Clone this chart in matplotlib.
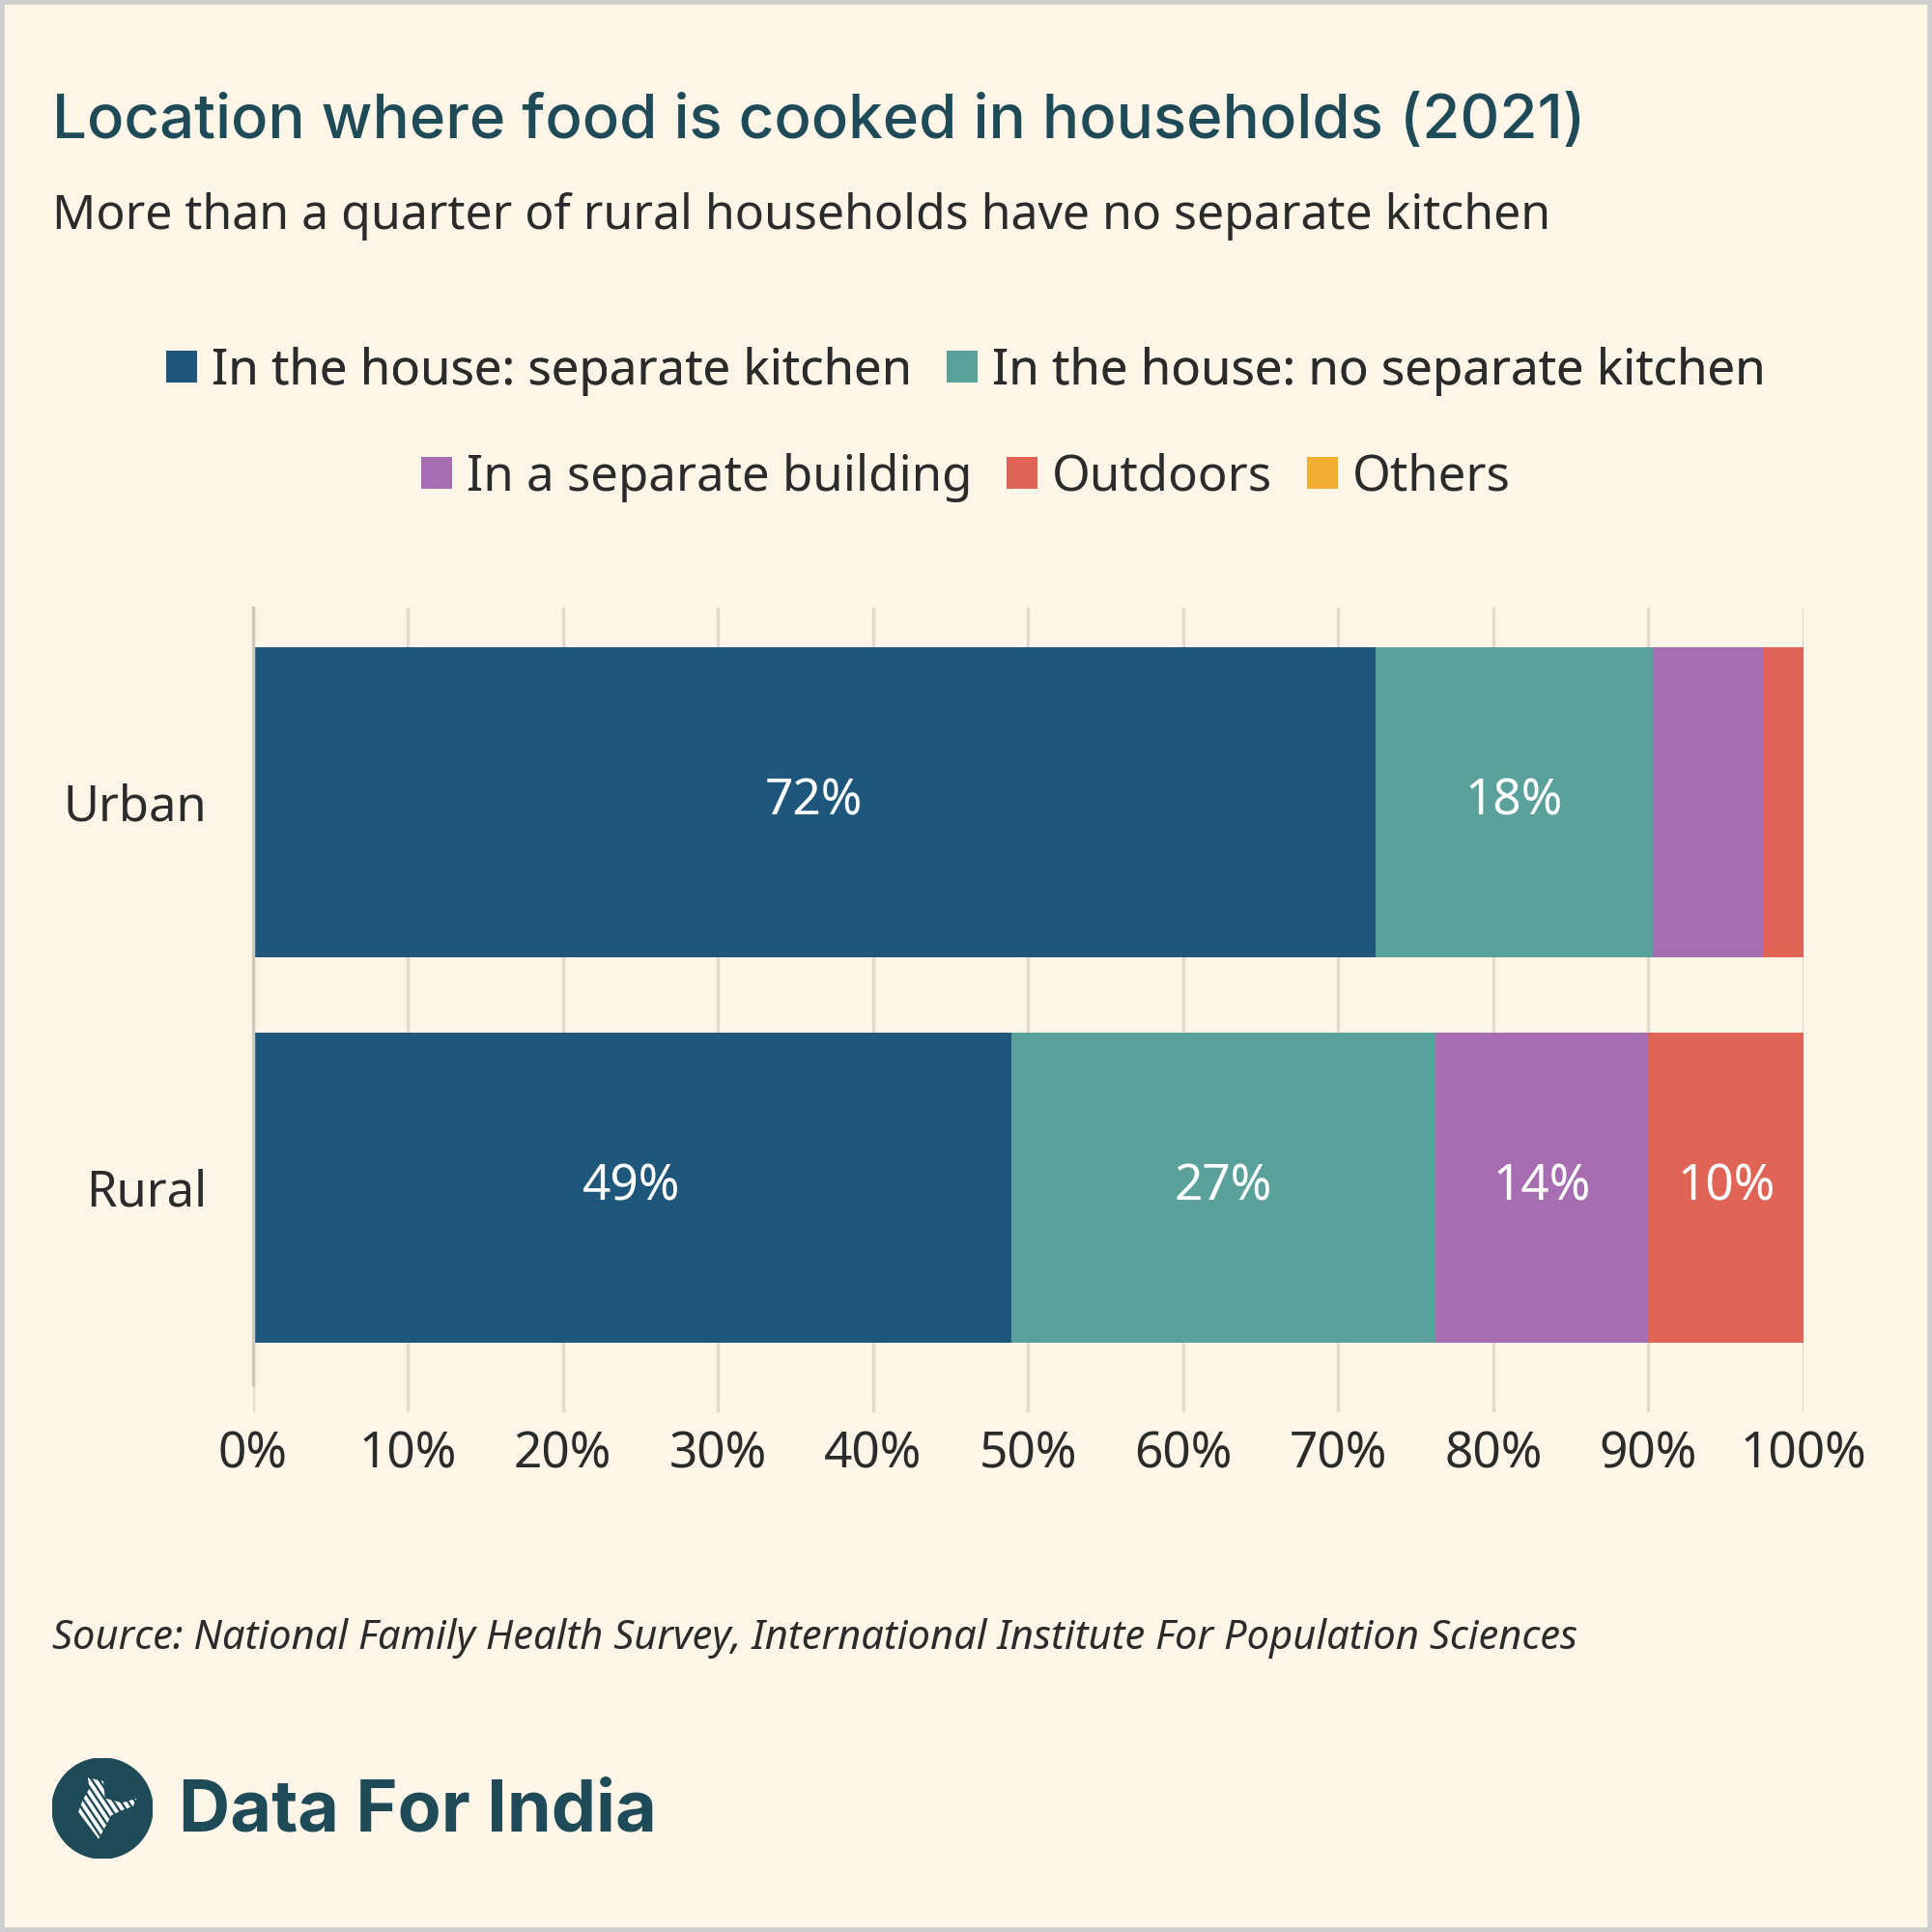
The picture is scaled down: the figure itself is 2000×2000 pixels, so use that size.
import numpy as np
import matplotlib.pyplot as plt
from matplotlib.patches import Patch, Rectangle, Circle, Polygon

# data
categories = ['Urban', 'Rural']
series = ['In the house: separate kitchen', 'In the house: no separate kitchen',
          'In a separate building', 'Outdoors', 'Others']
sep_kitchen = [72.4, 48.9]
no_sep_kitchen = [17.9, 27.4]
sep_building = [7.1, 13.7]
outdoors = [2.6, 10.0]
others = [0.0, 0.0]
values = [sep_kitchen, no_sep_kitchen, sep_building, outdoors, others]
colors = ['#1F567B', '#5AA19C', '#A66EB1', '#E06456', '#F2AE30']
xticks = [0, 10, 20, 30, 40, 50, 60, 70, 80, 90, 100]

BG = '#FDF5E7'
TITLE_C = '#1E4B57'
TEXT_C = '#2B2B2B'

fig = plt.figure(figsize=(20, 20), dpi=100, facecolor=BG)

# title block
fig.text(0.027, 1 - 127 / 2000, 'Location where food is cooked in households (2021)',
         family='Inter', fontsize=45.8, fontweight='medium', color=TITLE_C, va='center', ha='left')
fig.text(0.027, 1 - 224 / 2000, 'More than a quarter of rural households have no separate kitchen',
         family='Noto Sans', fontsize=36, color=TEXT_C, va='center', ha='left')

# chart
ax = fig.add_axes([261.5 / 2000, 1 - 1462 / 2000, 1605.5 / 2000, (1462 - 629) / 2000])
ax.set_facecolor(BG)
y = list(range(len(categories)))
left = [0.0] * len(categories)
for name, vals, col in zip(series, values, colors):
    bars = ax.barh(y, vals, left=left, height=0.805, color=col, edgecolor='none', label=name)
    for b, v in zip(bars, vals):
        if v >= 8:
            ax.text(b.get_x() + b.get_width() / 2, b.get_y() + b.get_height() / 2, f'{v:.0f}%',
                    ha='center', va='center', color='white', fontsize=37, family='Noto Sans',
                    fontweight='medium')
    left = [l + v for l, v in zip(left, vals)]

ax.set_xlim(0, 100)
ax.set_ylim(1.583, -0.505)
ax.set_yticks(y)
ax.set_yticklabels(categories, family='Noto Sans', fontsize=36.5, color=TEXT_C)
ax.set_xticks(xticks)
ax.set_xticklabels([f'{t}%' for t in xticks], family='Noto Sans', fontsize=37, color=TEXT_C)
ax.tick_params(axis='both', length=0)
ax.tick_params(axis='x', pad=13)
ax.tick_params(axis='y', pad=34)
ax.xaxis.grid(True, color='#E2DCCF', linewidth=2.5)
ax.set_axisbelow(True)
for s in ['top', 'right', 'bottom']:
    ax.spines[s].set_visible(False)
ax.spines['left'].set_color('#CFC8BA')
ax.spines['left'].set_linewidth(2.5)
ax.spines['left'].set_bounds(1.51, -0.505)

# legend in two centered rows
handles = [Patch(facecolor=c, edgecolor='none', label=s) for s, c in zip(series, colors)]
leg_kw = dict(frameon=False, prop={'family': 'Noto Sans', 'size': 36.7}, labelcolor=TEXT_C,
              handlelength=0.62, handleheight=0.62, handletextpad=0.3, columnspacing=0.7,
              loc='center', borderaxespad=0)
leg1 = fig.legend(handles=handles[:2], ncol=2, bbox_to_anchor=(0.5, 1 - 384 / 2000), **leg_kw)
fig.add_artist(leg1)
fig.legend(handles=handles[2:], ncol=3, bbox_to_anchor=(0.5, 1 - 494 / 2000), **leg_kw)

# source
fig.text(0.027, 1 - 1696 / 2000,
         'Source: National Family Health Survey, International Institute For Population Sciences',
         family='Noto Sans', style='italic', fontsize=30, color=TEXT_C, va='center', ha='left')

# logo: circle with striped map
lax = fig.add_axes([54 / 2000, 1 - 1924 / 2000, 104 / 2000, 104 / 2000])
lax.set_xlim(-1, 1)
lax.set_ylim(-1, 1)
lax.set_aspect('equal')
lax.axis('off')
lax.add_patch(Circle((0, 0), 1, color=TITLE_C))
shape = Polygon([(-0.29, 0.61), (0.02, 0.54), (0.05, 0.2), (0.39, 0.11), (0.68, 0.2),
                 (0.61, 0.04), (0.36, -0.05), (0.18, -0.14), (-0.075, -0.61), (-0.33, -0.27),
                 (-0.48, -0.08), (-0.39, 0.17), (-0.26, 0.39)], closed=True,
                facecolor='none', edgecolor='none')
lax.add_patch(shape)
d = np.array([1.0, -1.5]) / np.hypot(1.0, 1.5)
p = np.array([-d[1], d[0]])
for c in np.arange(-1.0, 1.0, 0.12):
    a = c * p - 1.5 * d
    b = c * p + 1.5 * d
    ln, = lax.plot([a[0], b[0]], [a[1], b[1]], color='white', lw=2.8, solid_capstyle='round')
    ln.set_clip_path(shape)
fig.text(185 / 2000, 1 - 1876 / 2000, 'Data For India', family='Inter', fontweight='bold',
         fontsize=53, color=TITLE_C, va='center', ha='left')

# outer border
fig.patches.append(Rectangle((0.001, 0.001), 0.998, 0.998, transform=fig.transFigure,
                             fill=False, edgecolor='#CFCFCF', linewidth=4))

fig.savefig('out.png', dpi=100, facecolor=BG)
